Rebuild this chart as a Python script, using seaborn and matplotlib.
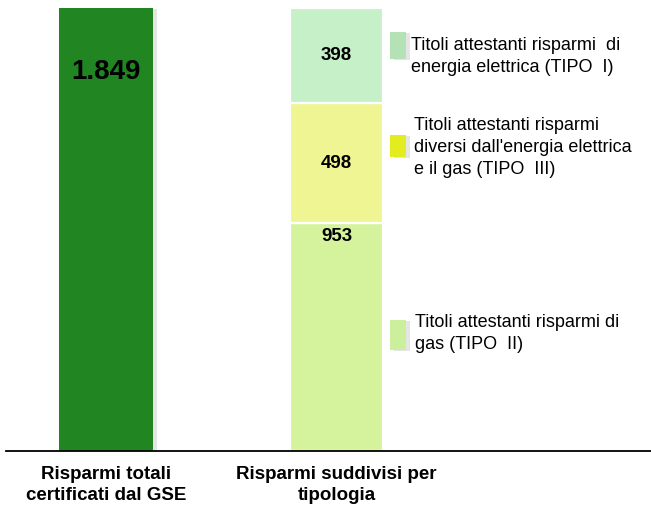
import matplotlib
matplotlib.use("Agg")
import matplotlib.pyplot as plt
import matplotlib.patheffects as pe
from matplotlib.patches import Rectangle
import seaborn as sns
import pandas as pd

# ---------------- data ----------------
categories = ["Risparmi totali\ncertificati dal GSE", "Risparmi suddivisi per\ntipologia"]
total_values = [1849]
total_labels = ["1.849"]
# stacked segments, bottom -> top
segment_names = [
    "Titoli attestanti risparmi di\ngas (TIPO  II)",
    "Titoli attestanti risparmi\ndiversi dall'energia elettrica\ne il gas (TIPO  III)",
    "Titoli attestanti risparmi  di\nenergia elettrica (TIPO  I)",
]
segment_values = [953, 498, 398]
segment_labels = ["953", "498", "398"]

# ---------------- styles ----------------
total_color = "#218621"
segment_colors = ["#D4F39C", "#EEF592", "#C6F0C8"]
legend_colors = ["#CBEF9C", "#E2EC1E", "#B4E2B6"]
label_frac = [0.94, 0.5, 0.5]          # vertical position of value label inside segment
# legend boxes in pixel coords (x0, y_top, w, h) and text anchor (x, first baseline)
legend_boxes = [(390, 320, 16, 30), (390, 135, 16, 22), (390, 32, 16, 27)]
legend_text_pos = [(415, 327), (414, 130), (411, 50)]
LINE_PX = 22

sns.set_style("white")
plt.rcParams["font.family"] = ["Liberation Sans", "DejaVu Sans"]
plt.rcParams["text.color"] = "black"
plt.rcParams["xtick.color"] = "black"

W, H = 651, 509
fig = plt.figure(figsize=(W / 100, H / 100), dpi=100)
ax = fig.add_axes([6 / W, (H - 451) / H, (W - 6) / W, (451 - 8) / H])

shadow = [pe.withSimplePatchShadow(offset=(3, -1), shadow_rgbFace="#9a9a9a", alpha=0.25)]

# total bar
df_total = pd.DataFrame({"cat": [categories[0]], "val": total_values})
sns.barplot(data=df_total, x="cat", y="val", order=categories, color=total_color,
            saturation=1, width=0.41, errorbar=None, ax=ax, linewidth=0)
for p in ax.patches:
    p.set_path_effects(shadow)

# stacked bar
bottom = 0
for name, val, col, lab, fr in zip(segment_names, segment_values, segment_colors,
                                   segment_labels, label_frac):
    d = pd.DataFrame({"cat": [categories[1]], "val": [val]})
    sns.barplot(data=d, x="cat", y="val", order=categories, color=col, saturation=1,
                width=0.40, errorbar=None, ax=ax, bottom=bottom,
                edgecolor="white", linewidth=1.6)
    ax.text(1, bottom + val * fr, lab, ha="center", va="center",
            fontsize=13.5, fontweight="bold", color="black")
    bottom += val

ax.text(0, total_values[0] * 0.856, total_labels[0], ha="center", va="center",
        fontsize=20, fontweight="bold", color="black")

ax.set_xlim(-0.434, 2.364)
ax.set_ylim(0, 1849)
ax.set_xlabel("")
ax.set_ylabel("")
ax.set_yticks([])
sns.despine(ax=ax, left=True, top=True, right=True)
ax.spines["bottom"].set_color("black")
ax.spines["bottom"].set_linewidth(1.3)
ax.tick_params(axis="x", length=0, pad=11, labelsize=13.5, labelcolor="black")
for t in ax.get_xticklabels():
    t.set_fontweight("bold")
    t.set_linespacing(1.3)
for p in ax.patches:
    p.set_clip_on(False)

# legend (drawn manually to match placement)
for (x0, yt, w, h), col, (tx, ty), name in zip(legend_boxes, legend_colors,
                                               legend_text_pos, segment_names):
    r = Rectangle((x0 / W, 1 - (yt + h) / H), w / W, h / H, transform=fig.transFigure,
                  facecolor=col, edgecolor="none", path_effects=shadow)
    fig.add_artist(r)
    n_lines = name.count("\n") + 1
    y_last = ty + (n_lines - 1) * LINE_PX
    fig.text(tx / W, 1 - y_last / H, name, ha="left", va="baseline", fontsize=13,
             linespacing=1.4, color="black")

fig.savefig("out.png", dpi=100)
